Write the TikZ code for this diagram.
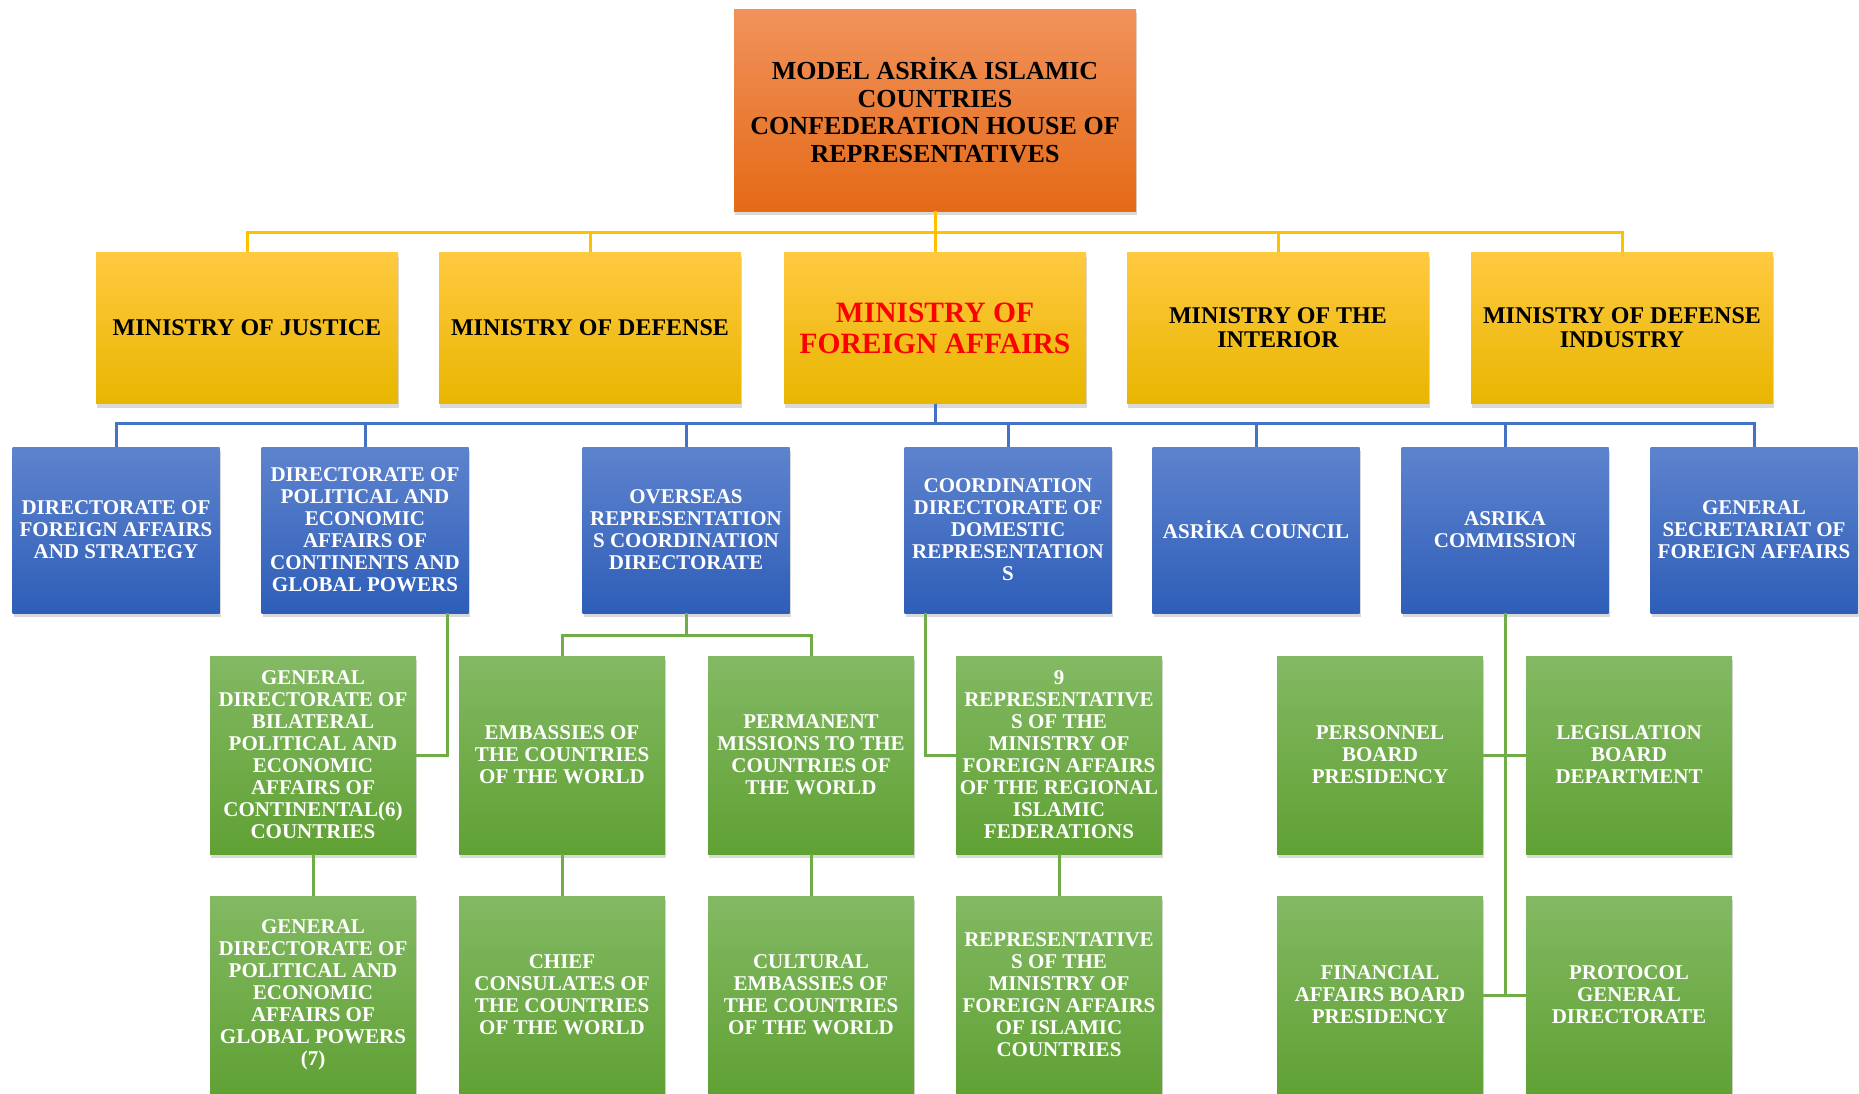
\documentclass[tikz,border=0pt]{standalone}
\usepackage{fontspec}
\setmainfont{Liberation Serif}
\usetikzlibrary{shadows}
\definecolor{orangetop}{RGB}{241,146,92}
\definecolor{orangebot}{RGB}{228,106,22}
\definecolor{goldtop}{RGB}{255,201,64}
\definecolor{goldbot}{RGB}{232,182,0}
\definecolor{bluetop}{RGB}{94,131,206}
\definecolor{bluebot}{RGB}{46,94,184}
\definecolor{greentop}{RGB}{131,185,99}
\definecolor{greenbot}{RGB}{96,161,52}
\definecolor{goldline}{RGB}{255,192,0}
\definecolor{blueline}{RGB}{68,114,196}
\definecolor{greenline}{RGB}{112,173,71}
\begin{document}
\begin{tikzpicture}[x=1pt,y=-1pt,
  caja/.style={rectangle,inner sep=0pt,align=center,
    drop shadow={opacity=0.3,shadow xshift=1pt,shadow yshift=-4pt}},
  cabeza/.style={caja,minimum width=402pt,minimum height=202pt,
    top color=orangetop,bottom color=orangebot,
    font=\fontsize{26}{27.5}\selectfont\bfseries},
  ministerio/.style={caja,minimum width=302pt,minimum height=151pt,
    top color=goldtop,bottom color=goldbot,
    font=\fontsize{24}{24}\selectfont\bfseries},
  direccion/.style={caja,minimum width=207pt,minimum height=166pt,
    top color=bluetop,bottom color=bluebot,text=white,
    font=\fontsize{21}{22}\selectfont\bfseries},
  unidad/.style={caja,minimum width=206pt,minimum height=198pt,
    top color=greentop,bottom color=greenbot,text=white,
    font=\fontsize{21}{22}\selectfont\bfseries},
  lineaoro/.style={draw=goldline,line width=3pt},
  lineaazul/.style={draw=blueline,line width=3pt},
  lineaverde/.style={draw=greenline,line width=3pt}]
\useasboundingbox (0,0) rectangle (1859,1093);
% Nivel superior
\node[cabeza] (cab) at (935,110) {MODEL ASRİKA ISLAMIC\\COUNTRIES\\CONFEDERATION HOUSE OF\\REPRESENTATIVES};
% Ministerios
\node[ministerio] (jus) at (247,328) {MINISTRY OF JUSTICE};
\node[ministerio] (def) at (590,328) {MINISTRY OF DEFENSE};
\node[ministerio,text=red,font=\fontsize{29.5}{31}\selectfont\bfseries] (mfa) at (935,328) {MINISTRY OF\\FOREIGN AFFAIRS};
\node[ministerio] (int) at (1278,328) {MINISTRY OF THE\\INTERIOR};
\node[ministerio] (ind) at (1622,328) {MINISTRY OF DEFENSE\\INDUSTRY};
% Direcciones
\node[direccion] (d1) at (116,530) {DIRECTORATE OF\\FOREIGN AFFAIRS\\AND STRATEGY};
\node[direccion] (d2) at (365,530) {DIRECTORATE OF\\POLITICAL AND\\ECONOMIC\\AFFAIRS OF\\CONTINENTS AND\\GLOBAL POWERS};
\node[direccion] (d3) at (686,530) {OVERSEAS\\REPRESENTATION\\S COORDINATION\\DIRECTORATE};
\node[direccion] (d4) at (1008,530) {COORDINATION\\DIRECTORATE OF\\DOMESTIC\\REPRESENTATION\\S};
\node[direccion] (d5) at (1256,530) {ASRİKA COUNCIL};
\node[direccion] (d6) at (1505,530) {ASRIKA\\COMMISSION};
\node[direccion] (d7) at (1754,530) {GENERAL\\SECRETARIAT OF\\FOREIGN AFFAIRS};
% Unidades
\node[unidad] (ua1) at (313,755) {GENERAL\\DIRECTORATE OF\\BILATERAL\\POLITICAL AND\\ECONOMIC\\AFFAIRS OF\\CONTINENTAL(6)\\COUNTRIES};
\node[unidad] (ua2) at (313,995) {GENERAL\\DIRECTORATE OF\\POLITICAL AND\\ECONOMIC\\AFFAIRS OF\\GLOBAL POWERS\\(7)};
\node[unidad] (ub1) at (562,755) {EMBASSIES OF\\THE COUNTRIES\\OF THE WORLD};
\node[unidad] (ub2) at (562,995) {CHIEF\\CONSULATES OF\\THE COUNTRIES\\OF THE WORLD};
\node[unidad] (uc1) at (811,755) {PERMANENT\\MISSIONS TO THE\\COUNTRIES OF\\THE WORLD};
\node[unidad] (uc2) at (811,995) {CULTURAL\\EMBASSIES OF\\THE COUNTRIES\\OF THE WORLD};
\node[unidad] (ud1) at (1059,755) {9\\REPRESENTATIVE\\S OF THE\\MINISTRY OF\\FOREIGN AFFAIRS\\OF THE REGIONAL\\ISLAMIC\\FEDERATIONS};
\node[unidad] (ud2) at (1059,995) {REPRESENTATIVE\\S OF THE\\MINISTRY OF\\FOREIGN AFFAIRS\\OF ISLAMIC\\COUNTRIES};
\node[unidad] (ue1) at (1380,755) {PERSONNEL\\BOARD\\PRESIDENCY};
\node[unidad] (ue2) at (1380,995) {FINANCIAL\\AFFAIRS BOARD\\PRESIDENCY};
\node[unidad] (uf1) at (1629,755) {LEGISLATION\\BOARD\\DEPARTMENT};
\node[unidad] (uf2) at (1629,995) {PROTOCOL\\GENERAL\\DIRECTORATE};
% Conectores amarillos
\foreach \m in {jus,def,mfa,int,ind}
        \draw[lineaoro] (cab.south) -- ++(0,21) -| (\m.north);
% Conectores azules
\foreach \d in {d1,d2,d3,d4,d5,d6,d7}
        \draw[lineaazul] (mfa.south) -- ++(0,20) -| (\d.north);
% Conectores verdes
\draw[lineaverde] ([xshift=-21pt]d2.south east) |- (ua1.east);
\draw[lineaverde] ([xshift=21pt]d4.south west) |- (ud1.west);
\foreach \u in {ub1,uc1}
        \draw[lineaverde] (d3.south) -- ++(0,22) -| (\u.north);
\foreach \a/\b in {ua1/ua2,ub1/ub2,uc1/uc2,ud1/ud2}
        \draw[lineaverde] (\a.south) -- (\b.north);
\draw[lineaverde] (d6.south) -- (d6.south |- ue2.east);
\draw[lineaverde] (ue1.east) -- (uf1.west);
\draw[lineaverde] (ue2.east) -- (uf2.west);
\end{tikzpicture}
\end{document}
